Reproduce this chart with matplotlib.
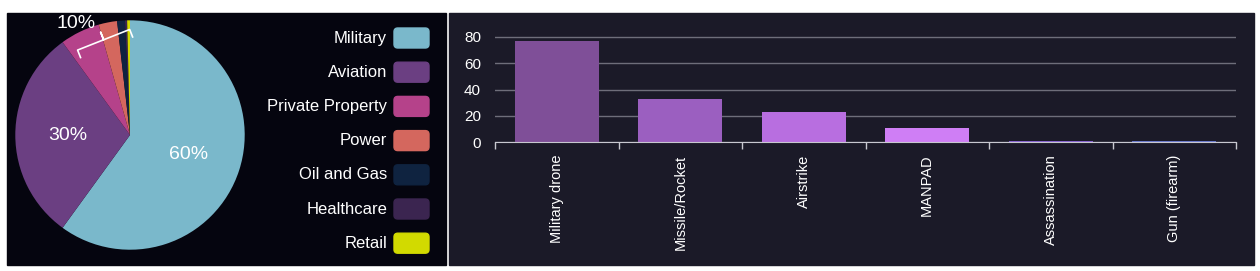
import numpy as np
import matplotlib
matplotlib.use("Agg")
import matplotlib.pyplot as plt
from matplotlib.patches import Rectangle, FancyBboxPatch

plt.rcParams["font.family"] = ["Liberation Sans", "DejaVu Sans"]

# pie data (share of targets, %)
sectors = ["Military", "Aviation", "Private Property", "Power",
           "Oil and Gas", "Healthcare", "Retail"]
sector_share = [60, 30, 5.6, 2.6, 1.1, 0.3, 0.4]
sector_colors = ["#7ab8cb", "#6b3f82", "#b5428a", "#d4675e",
                 "#0f2340", "#3b2550", "#d2da00"]

# bar data (count by weapon type)
weapons = ["Military drone", "Missile/Rocket", "Airstrike", "MANPAD",
           "Assassination", "Gun (firearm)"]
weapon_counts = [77, 33, 23, 11, 0.6, 0.6]
weapon_colors = ["#7f4f98", "#9b5fc0", "#b86ee0", "#cf7ef5",
                 "#8560d0", "#6676cc"]
y_ticks = [0, 20, 40, 60, 80]

W, H = 1260, 271
fig = plt.figure(figsize=(W / 100, H / 100), dpi=100, facecolor="white")


def fx(px):
    return px / W


def fy(py):
    return 1 - py / H


# panel backgrounds (behind the axes)
fig.patches.append(Rectangle((fx(7), fy(265)), fx(439), (265 - 13) / H,
                             transform=fig.transFigure, color="#05050f", zorder=-5))
fig.patches.append(Rectangle((fx(449), fy(265)), fx(805), (265 - 13) / H,
                             transform=fig.transFigure, color="#1b1a28", zorder=-5))

# ---- pie ----
ax_pie = fig.add_axes([fx(13), fy(252), fx(234), 234 / H])
ax_pie.set_facecolor("none")
wedges, _ = ax_pie.pie(sector_share, colors=sector_colors, startangle=90,
                       counterclock=False, radius=1)
ax_pie.set_xlim(-1.02, 1.02)
ax_pie.set_ylim(-1.02, 1.02)
ax_pie.set_aspect("equal")
ax_pie.axis("off")

total = sum(sector_share)
cum = np.cumsum([0] + sector_share)
for i in range(2):
    mid = 90 - 360 * (cum[i] + cum[i + 1]) / 2 / total
    r = 0.54
    ax_pie.text(r * np.cos(np.radians(mid)), r * np.sin(np.radians(mid)),
                f"{sector_share[i] / total * 100:.0f}%", color="white",
                fontsize=14, ha="center", va="center")

# bracket over the small slices
small = total - cum[2]
a0 = np.radians(90 - 360 * (cum[2] + 1.2) / total)
a1 = np.radians(90 - 360 * (total - 0.05) / total)
p0 = 0.87 * np.array([np.cos(a0), np.sin(a0)])
p1 = 0.92 * np.array([np.cos(a1), np.sin(a1)])
mid_pt = (p0 + p1) / 2
d = p1 - p0
nrm = np.array([-d[1], d[0]])
nrm = nrm / np.linalg.norm(nrm)
if nrm[1] < 0:
    nrm = -nrm
h = 0.07
pts = [p0 - nrm * h, p0, mid_pt, mid_pt + nrm * h, mid_pt, p1, p1 - nrm * h]
ax_pie.plot([p[0] for p in pts], [p[1] for p in pts], color="white", lw=1.2,
            clip_on=False)
ax_pie.text(-0.47, 0.97, f"{small / total * 100:.0f}%", color="white",
            fontsize=14, ha="center", va="center")

# legend
for i, (name, col) in enumerate(zip(sectors, sector_colors)):
    yc = 38 + i * 34.2
    fig.text(fx(387), fy(yc), name, color="white", fontsize=12,
             ha="right", va="center")
    fig.patches.append(FancyBboxPatch((fx(394), fy(yc + 10)), fx(35), 20 / H,
                                      boxstyle="round,pad=0,rounding_size=0.003",
                                      transform=fig.transFigure, color=col,
                                      mutation_aspect=W / H))

# ---- bars ----
ax_bar = fig.add_axes([fx(495), fy(142), fx(741), (142 - 31.75) / H])
ax_bar.set_facecolor("none")
x = np.arange(len(weapons))
ax_bar.bar(x, weapon_counts, width=0.68, color=weapon_colors, zorder=3)
ax_bar.set_xlim(-0.5, len(weapons) - 0.5)
ax_bar.set_ylim(0, 84)
ax_bar.set_yticks(y_ticks)
ax_bar.set_yticklabels([str(t) for t in y_ticks], color="white", fontsize=11)
ax_bar.yaxis.grid(True, color="#6e6e7a", lw=1, zorder=0)
ax_bar.tick_params(axis="y", length=0, pad=10)
ax_bar.set_xticks(x)
ax_bar.set_xticklabels(weapons, rotation=90, color="white", fontsize=10.5)
ax_bar.tick_params(axis="x", which="major", length=0, pad=9)
ax_bar.set_xticks(np.arange(-0.5, len(weapons)), minor=True)
ax_bar.tick_params(axis="x", which="minor", length=5, color="#c8c8d0", width=1)
for s in ["left", "right", "top"]:
    ax_bar.spines[s].set_visible(False)
ax_bar.spines["bottom"].set_color("#c8c8d0")
ax_bar.spines["bottom"].set_zorder(4)

fig.savefig("out.png", dpi=100, facecolor="white")
